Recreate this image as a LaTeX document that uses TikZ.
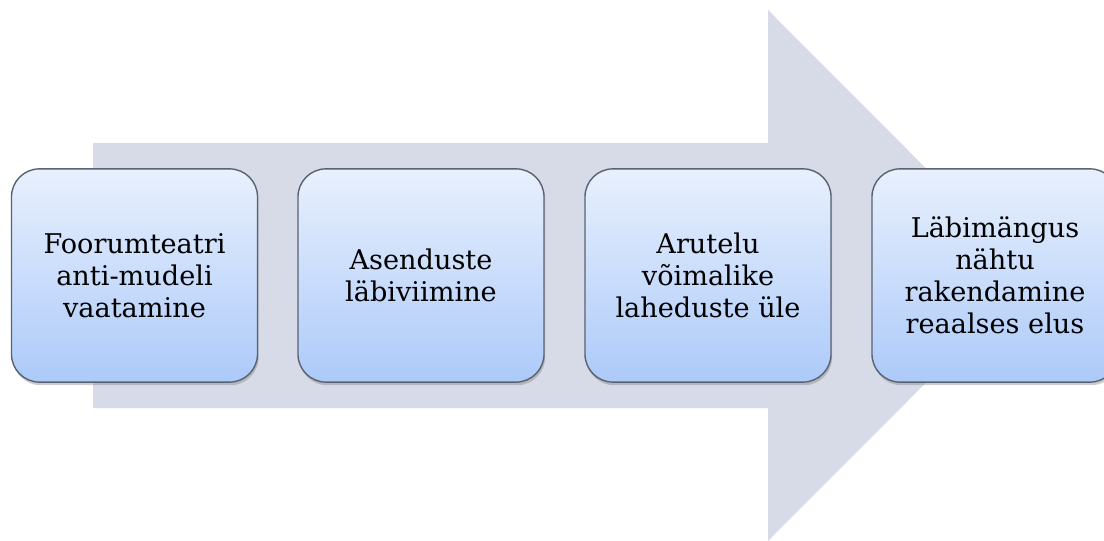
\documentclass[tikz,border=0pt]{standalone}
\usepackage{fontspec}
\setmainfont{DejaVu Serif}
\usetikzlibrary{shadows}
\definecolor{arrowfill}{HTML}{D6DBE7}
\definecolor{boxtop}{HTML}{E8F0FD}
\definecolor{boxbottom}{HTML}{ACCAF9}
\definecolor{boxline}{HTML}{5A6272}
\tikzset{
  stage/.style={draw=boxline, line width=1pt, rounded corners=.7cm,
    top color=boxtop, bottom color=boxbottom,
    minimum width=6.15cm, minimum height=5.33cm, inner sep=0pt,
    align=center, font=\fontsize{19.3}{22.8}\selectfont,
    drop shadow={shadow xshift=.8pt, shadow yshift=-2.2pt, opacity=.4}}
}
\begin{document}
\begin{tikzpicture}[x=.025cm,y=.025cm]
  \useasboundingbox (0,0) rectangle (1104,540);
  \clip (0,0) rectangle (1104,540);
  % the big arrow behind the steps
  \fill[arrowfill] (93,132) -- (768,132) -- (768,-1) -- (1033,264.5)
    -- (768,530) -- (768,397) -- (93,397) -- cycle;
  \node[stage] (view) at (134.5,264.5) {Foorumteatri\\anti-mudeli\\vaatamine};
  \node[stage] (swap) at (421,264.5) {Asenduste\\läbiviimine};
  \node[stage] (talk) at (708,264.5) {Arutelu\\võimalike\\laheduste üle};
  \node[stage] (life) at (995,264.5) {Läbimängus\\nähtu\\rakendamine\\reaalses elus};
\end{tikzpicture}
\end{document}
